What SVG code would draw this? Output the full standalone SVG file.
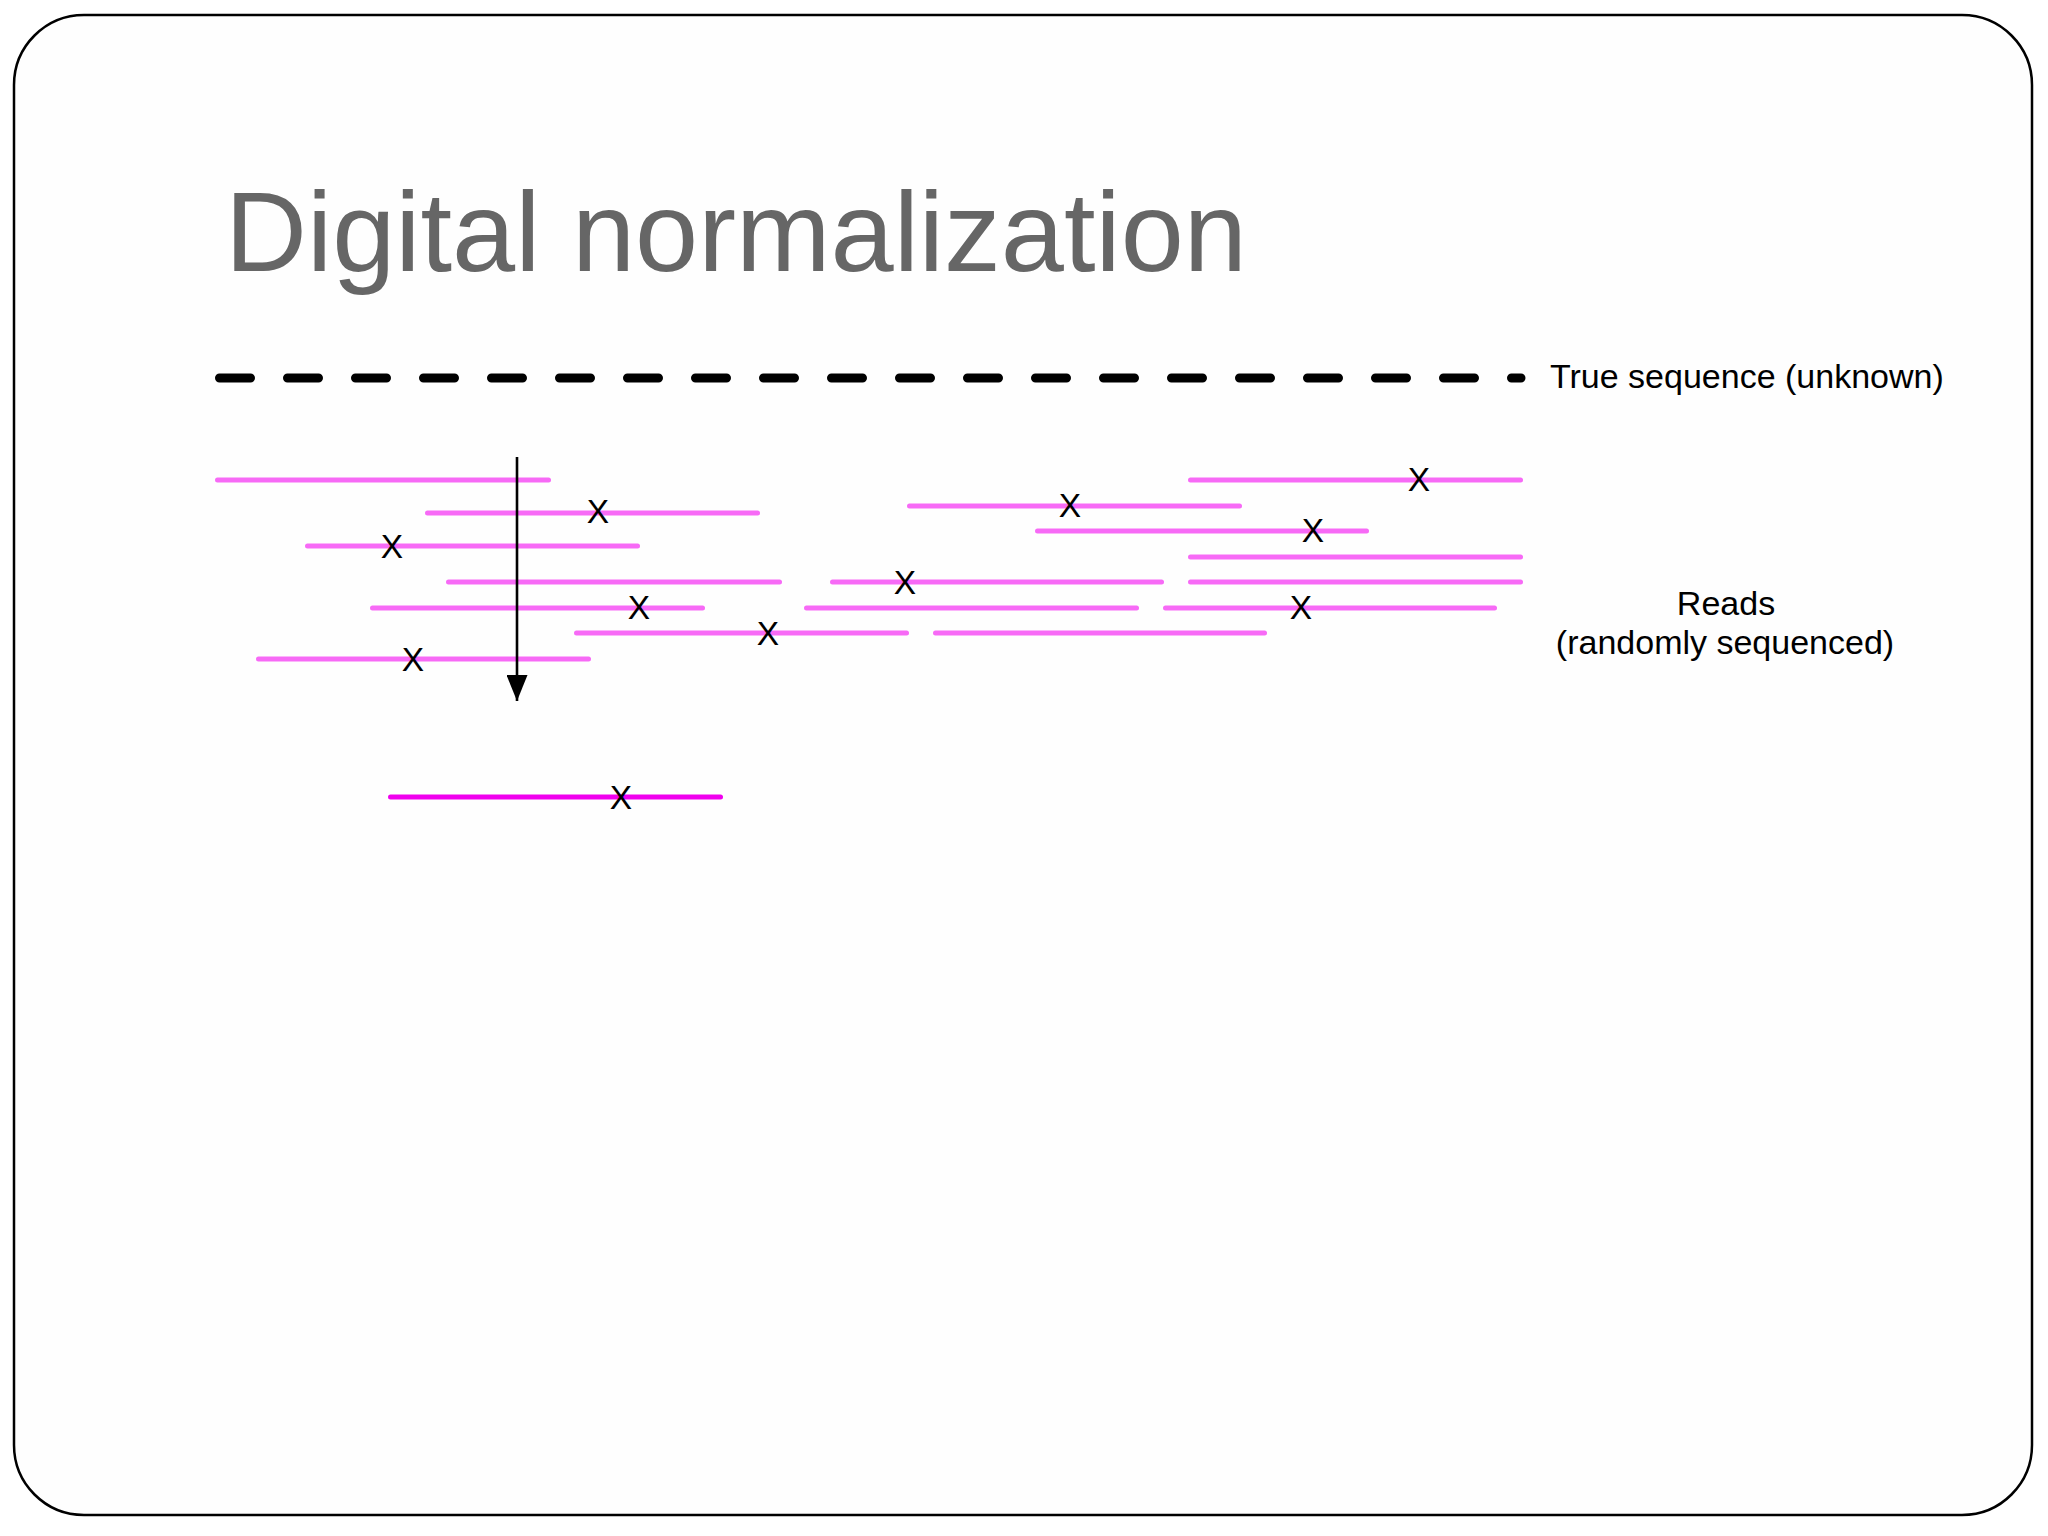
<svg xmlns="http://www.w3.org/2000/svg" width="2048" height="1536" viewBox="0 0 2048 1536">
<defs>
<style>
.read{stroke:#f76af6;stroke-width:5;stroke-linecap:round;fill:none}
.kept{stroke:#f000ee;stroke-width:5;stroke-linecap:round;fill:none}
.x{font-family:"Liberation Sans",Arial,sans-serif;font-size:33.5px;fill:#000;text-anchor:middle}
.lbl{font-family:"Liberation Sans",Arial,sans-serif;font-size:34px;fill:#000}
</style>
<marker id="ah" viewBox="0 0 10 10" refX="10" refY="5" markerWidth="26" markerHeight="21" markerUnits="userSpaceOnUse" orient="auto" preserveAspectRatio="none">
<path d="M0,0 L10,5 L0,10 Z" fill="#000"/>
</marker>
</defs>
<rect x="0" y="0" width="2048" height="1536" fill="#ffffff"/>
<rect x="14" y="15" width="2018" height="1500" rx="70" ry="70" fill="#fefefe" stroke="#000" stroke-width="2.5"/>
<g id="title">
<text x="225" y="271" font-family="'Liberation Sans',Arial,sans-serif" font-size="113.5" fill="#666666">Digital normalization</text>
</g>
<g id="true-sequence">
<line x1="219.5" y1="378" x2="1521" y2="378" stroke="#000" stroke-width="9" stroke-linecap="round" stroke-dasharray="31 37"/>
<text class="lbl" x="1550" y="388">True sequence (unknown)</text>
</g>
<g id="reads">
<line class="read" x1="217.5" y1="480" x2="548.5" y2="480"/>
<line class="read" x1="427.5" y1="513" x2="757.5" y2="513"/>
<line class="read" x1="307.5" y1="546" x2="637.5" y2="546"/>
<line class="read" x1="448.5" y1="582" x2="779.5" y2="582"/>
<line class="read" x1="372.5" y1="608" x2="702.5" y2="608"/>
<line class="read" x1="576.5" y1="633" x2="906.5" y2="633"/>
<line class="read" x1="258.5" y1="659" x2="588.5" y2="659"/>
<line class="read" x1="1190.5" y1="480" x2="1520.5" y2="480"/>
<line class="read" x1="909.5" y1="506" x2="1239.5" y2="506"/>
<line class="read" x1="1037.5" y1="531" x2="1366.5" y2="531"/>
<line class="read" x1="1190.5" y1="557" x2="1520.5" y2="557"/>
<line class="read" x1="832.5" y1="582" x2="1161.5" y2="582"/>
<line class="read" x1="1190.5" y1="582" x2="1520.5" y2="582"/>
<line class="read" x1="806.5" y1="608" x2="1136.5" y2="608"/>
<line class="read" x1="1165.5" y1="608" x2="1494.5" y2="608"/>
<line class="read" x1="935.5" y1="633" x2="1264.5" y2="633"/>
</g>
<g id="errors">
<text class="x" x="598" y="523">X</text>
<text class="x" x="392" y="558">X</text>
<text class="x" x="639" y="619">X</text>
<text class="x" x="768" y="645">X</text>
<text class="x" x="413" y="671">X</text>
<text class="x" x="1419" y="491">X</text>
<text class="x" x="1070" y="517">X</text>
<text class="x" x="1313" y="542">X</text>
<text class="x" x="905" y="594">X</text>
<text class="x" x="1301" y="619">X</text>
</g>
<g id="reads-label">
<text class="lbl" x="1726" y="615" text-anchor="middle">Reads</text>
<text class="lbl" x="1725" y="654" text-anchor="middle">(randomly sequenced)</text>
</g>
<g id="connectors">
<line x1="517" y1="457" x2="517" y2="701" stroke="#000" stroke-width="2.6" marker-end="url(#ah)"/>
</g>
<g id="kept-read">
<line class="kept" x1="390.5" y1="797" x2="720.5" y2="797"/>
<text class="x" x="621" y="809">X</text>
</g>
</svg>
